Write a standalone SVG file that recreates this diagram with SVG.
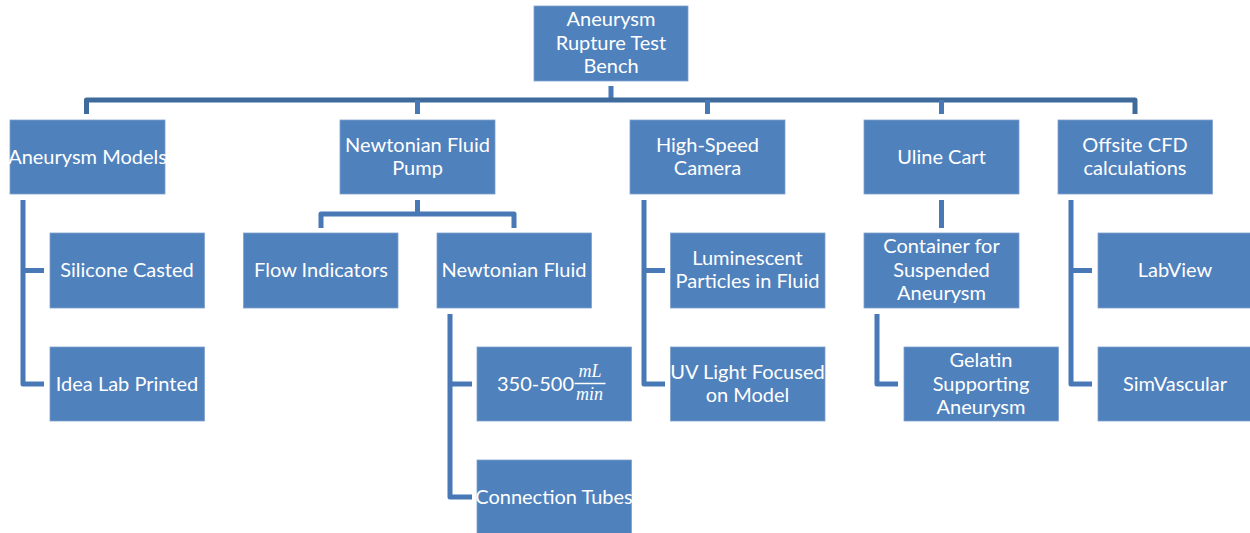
<svg xmlns="http://www.w3.org/2000/svg" width="1250" height="533" viewBox="0 0 1250 533">
<style>
  .box{fill:#4F81BD;stroke:#7FA1CC;stroke-width:0.8}
  .t{font-family:Lato,"Liberation Sans",sans-serif;font-size:20px;fill:#FFFFFF;text-anchor:middle}
  .bar{fill:none;stroke:#3F6A9C;stroke-width:5;stroke-linejoin:round}
  .ln{fill:none;stroke:#4878B5;stroke-width:5;stroke-linejoin:round}
  .m{font-family:"Liberation Serif",serif;font-style:italic;font-size:18px;fill:#FFFFFF;text-anchor:middle}
</style>
<rect width="1250" height="533" fill="#FFFFFF"/>
<g id="connectors">
  <path class="ln" d="M611,86 V100"/>
  <path class="bar" d="M86.5,114 V100 H1135 V114"/>
  <path class="ln" d="M417.5,100 V114 M707.5,100 V114 M941.5,100 V114"/>
  <path class="ln" d="M23,200 V384 H44 M23,270.5 H44"/>
  <path class="ln" d="M417.5,200 V214 M321,228 V214 H514 V228"/>
  <path class="ln" d="M450,314 V497 H472 M450,384 H472"/>
  <path class="ln" d="M644,200 V384 H665 M644,270.5 H665"/>
  <path class="ln" d="M941.5,200 V228"/>
  <path class="ln" d="M877,314 V384 H898"/>
  <path class="ln" d="M1071,200 V384 H1092 M1071,270.5 H1092"/>
</g>
<g id="root">
  <rect class="box" x="534" y="6" width="154" height="75"/>
  <text class="t" x="611" y="26">Aneurysm</text>
  <text class="t" x="611" y="49.5">Rupture Test</text>
  <text class="t" x="611" y="73">Bench</text>
</g>
<g id="aneurysm-models">
  <rect class="box" x="10" y="120" width="155" height="74"/>
  <text class="t" x="87.5" y="163.5">Aneurysm Models</text>
</g>
<g id="newtonian-fluid-pump">
  <rect class="box" x="340" y="120" width="155" height="74"/>
  <text class="t" x="417.5" y="151.5">Newtonian Fluid</text>
  <text class="t" x="417.5" y="175">Pump</text>
</g>
<g id="high-speed-camera">
  <rect class="box" x="630" y="120" width="155" height="74"/>
  <text class="t" x="707.5" y="151.5">High-Speed</text>
  <text class="t" x="707.5" y="175">Camera</text>
</g>
<g id="uline-cart">
  <rect class="box" x="864" y="120" width="155" height="74"/>
  <text class="t" x="941.5" y="163.5">Uline Cart</text>
</g>
<g id="offsite-cfd">
  <rect class="box" x="1058" y="120" width="154.5" height="74"/>
  <text class="t" x="1135" y="151.5">Offsite CFD</text>
  <text class="t" x="1135" y="175">calculations</text>
</g>
<g id="silicone-casted">
  <rect class="box" x="50" y="233" width="154.5" height="75"/>
  <text class="t" x="127" y="277">Silicone Casted</text>
</g>
<g id="idea-lab-printed">
  <rect class="box" x="50" y="347" width="154.5" height="74"/>
  <text class="t" x="127" y="390.5">Idea Lab Printed</text>
</g>
<g id="flow-indicators">
  <rect class="box" x="243.5" y="233" width="154.5" height="75"/>
  <text class="t" x="321" y="277">Flow Indicators</text>
</g>
<g id="newtonian-fluid">
  <rect class="box" x="437" y="233" width="154.5" height="75"/>
  <text class="t" x="514" y="277">Newtonian Fluid</text>
</g>
<g id="flow-rate">
  <rect class="box" x="477" y="347" width="154.5" height="74"/>
  <text class="t" x="537" y="390.5" text-anchor="end" style="text-anchor:end" dx="37">350-500</text>
  <line x1="574.5" y1="383.5" x2="605.5" y2="383.5" stroke="#FFFFFF" stroke-width="1.5"/>
  <text class="m" x="590" y="377">mL</text>
  <text class="m" x="589.5" y="400">min</text>
</g>
<g id="connection-tubes">
  <rect class="box" x="477" y="460" width="154.5" height="74"/>
  <text class="t" x="554" y="503.5">Connection Tubes</text>
</g>
<g id="luminescent-particles">
  <rect class="box" x="670.5" y="233" width="154.5" height="75"/>
  <text class="t" x="747.5" y="265">Luminescent</text>
  <text class="t" x="747.5" y="288">Particles in Fluid</text>
</g>
<g id="uv-light">
  <rect class="box" x="670.5" y="347" width="154.5" height="74"/>
  <text class="t" x="747.5" y="378.5">UV Light Focused</text>
  <text class="t" x="747.5" y="402">on Model</text>
</g>
<g id="container">
  <rect class="box" x="864" y="233" width="155" height="75"/>
  <text class="t" x="941.5" y="253">Container for</text>
  <text class="t" x="941.5" y="276.5">Suspended</text>
  <text class="t" x="941.5" y="300">Aneurysm</text>
</g>
<g id="gelatin">
  <rect class="box" x="904" y="347" width="154.5" height="74"/>
  <text class="t" x="981" y="367">Gelatin</text>
  <text class="t" x="981" y="390.5">Supporting</text>
  <text class="t" x="981" y="414">Aneurysm</text>
</g>
<g id="labview">
  <rect class="box" x="1098" y="233" width="154" height="75"/>
  <text class="t" x="1175" y="277">LabView</text>
</g>
<g id="simvascular">
  <rect class="box" x="1098" y="347" width="154" height="74"/>
  <text class="t" x="1175" y="390.5">SimVascular</text>
</g>
</svg>
